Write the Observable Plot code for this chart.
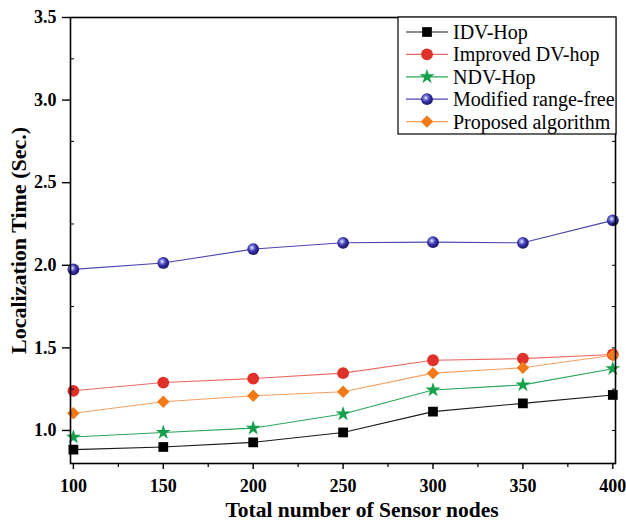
<!DOCTYPE html>
<html>
<head>
<meta charset="utf-8">
<script src="https://cdn.jsdelivr.net/npm/d3@7"></script>
<script src="https://cdn.jsdelivr.net/npm/@observablehq/plot@0.6"></script>
<style>
  body { margin: 0; background: #fff; }
  #chart svg { display: block; font-family: "Liberation Serif", "Times New Roman", serif; }
  #chart g[aria-label="x-axis tick label"],
  #chart g[aria-label="y-axis tick label"] { font-size: 18px !important; font-weight: bold; }
</style>
</head>
<body>
<div id="chart"></div>
<script>
// Localization time of five range-free algorithms versus network size
const nodes = [100, 150, 200, 250, 300, 350, 400];
const idvHop = [0.884, 0.900, 0.928, 0.988, 1.114, 1.164, 1.215];
const improvedDvHop = [1.240, 1.290, 1.314, 1.347, 1.425, 1.435, 1.460];
const ndvHop = [0.960, 0.988, 1.014, 1.100, 1.245, 1.276, 1.374];
const modifiedRangeFree = [1.975, 2.014, 2.098, 2.136, 2.140, 2.136, 2.272];
const proposedAlgorithm = [1.104, 1.174, 1.210, 1.234, 1.347, 1.380, 1.455];

const seriesNames = ["IDV-Hop", "Improved DV-hop", "NDV-Hop", "Modified range-free", "Proposed algorithm"];
const seriesValues = [idvHop, improvedDvHop, ndvHop, modifiedRangeFree, proposedAlgorithm];
const xTicks = [100, 150, 200, 250, 300, 350, 400];
const xMinorTicks = [125, 175, 225, 275, 325, 375];
const yTicks = [1.0, 1.5, 2.0, 2.5, 3.0, 3.5];
const yMinorTicks = [1.25, 1.75, 2.25, 2.75, 3.25];
const xTitle = "Total number of Sensor nodes";
const yTitle = "Localization Time (Sec.)";

// marker + line styling per series
const styles = [
  {symbol: "square",  r: 5.5, fill: "#000000", line: "#1a1a1a"},
  {symbol: "circle",  r: 5.9, fill: "#e0302a", line: "#ec6a66"},
  {symbol: "star",    r: 4.7, fill: "#14a04c", line: "#2aa55a"},
  {symbol: "circle",  r: 5.9, fill: "url(#sphere)", line: "#4a46ae"},
  {symbol: "diamond2",r: 5.6, fill: "#f27a18", line: "#f5a060"}
];

const rows = seriesNames.flatMap((name, i) =>
  nodes.map((n, j) => ({series: name, idx: i, nodes: n, time: seriesValues[i][j]})));

const font = "Liberation Serif";
const lineMarks = seriesNames.map((name, i) =>
  Plot.line(rows.filter(d => d.idx === i), {x: "nodes", y: "time", stroke: styles[i].line, strokeWidth: 1.1}));
const dotMarks = seriesNames.map((name, i) =>
  Plot.dot(rows.filter(d => d.idx === i), {x: "nodes", y: "time", symbol: styles[i].symbol, r: styles[i].r, fill: styles[i].fill, stroke: "none"}));

const chart = Plot.plot({
  width: 626,
  height: 522,
  marginLeft: 70,
  marginRight: 11,
  marginTop: 17,
  marginBottom: 59,
  style: {fontFamily: font, background: "#fff", color: "#000"},
  x: {domain: [98.4, 401.5]},
  y: {domain: [0.8, 3.5]},
  marks: [
    ...lineMarks,
    ...dotMarks,
    Plot.frame({stroke: "#000", strokeWidth: 1.6}),
    Plot.axisX({ticks: xTicks, tickSize: 6, tickPadding: 10, label: null, strokeWidth: 1.4}),
    Plot.axisX({ticks: xMinorTicks, tickSize: 4, text: null, label: null, strokeWidth: 1.2}),
    Plot.axisY({ticks: yTicks, tickSize: 8, tickPadding: 6, tickFormat: d3.format(".1f"), label: null, strokeWidth: 1.4}),
    Plot.axisY({ticks: yMinorTicks, tickSize: -4, text: null, label: null, strokeWidth: 1}),
    Plot.axisY({anchor: "right", ticks: yTicks.concat(yMinorTicks), tickSize: -4, text: null, label: null, strokeWidth: 1}),
    Plot.text([xTitle], {frameAnchor: "bottom", dx: 19, dy: 53, fontSize: 21.5, fontWeight: "bold", fill: "#000"}),
    Plot.text([yTitle], {frameAnchor: "left", textAnchor: "middle", dx: -52, rotate: -90, fontSize: 22, fontWeight: "bold", fill: "#000"})
  ]
});

// sphere shading for the "Modified range-free" markers
const svg = d3.select(chart);
const grad = svg.insert("defs", ":first-child").append("radialGradient")
  .attr("id", "sphere").attr("cx", "40%").attr("cy", "38%").attr("r", "60%");
grad.append("stop").attr("offset", "0%").attr("stop-color", "#ffffff");
grad.append("stop").attr("offset", "22%").attr("stop-color", "#8f95e8");
grad.append("stop").attr("offset", "55%").attr("stop-color", "#3a35a8");
grad.append("stop").attr("offset", "100%").attr("stop-color", "#1c1870");

// legend box in the upper right of the plot area
const legend = svg.append("g").attr("font-family", font).attr("text-anchor", "start");
legend.append("rect")
  .attr("x", 398).attr("y", 17).attr("width", 218).attr("height", 117)
  .attr("fill", "#fff").attr("stroke", "#000").attr("stroke-width", 1.2);
const symbolTypes = {square: d3.symbolSquare, circle: d3.symbolCircle, star: d3.symbolStar, diamond2: d3.symbolDiamond2};
seriesNames.forEach((name, i) => {
  const cy = 32 + i * 22.4;
  const s = styles[i];
  legend.append("line").attr("x1", 406).attr("x2", 448).attr("y1", cy).attr("y2", cy)
    .attr("stroke", s.line).attr("stroke-width", 1.2);
  legend.append("path")
    .attr("d", d3.symbol(symbolTypes[s.symbol], Math.PI * s.r * s.r)())
    .attr("transform", `translate(427,${cy})`)
    .attr("fill", s.fill);
  legend.append("text").attr("x", 453).attr("y", cy).attr("dy", "0.35em")
    .attr("text-anchor", "start")
    .attr("font-size", 20).attr("fill", "#000").text(name);
});

document.getElementById("chart").appendChild(chart);
</script>
</body>
</html>
